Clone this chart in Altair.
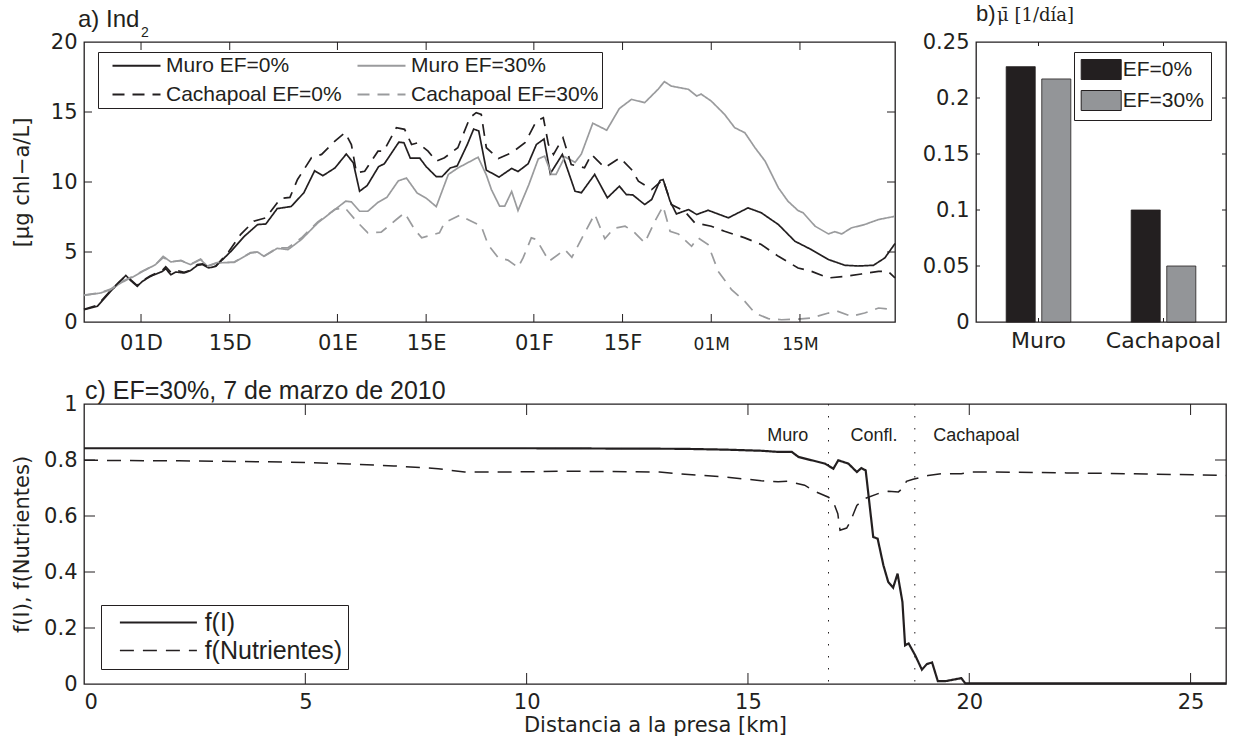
import altair as alt
import pandas as pd

NEGRO = "#231f20"
GRIS = "#9a9b9d"
GRIS_BARRA = "#939598"

# ---------------- a) Ind2 : clorofila diaria (dias desde el 22-nov-2009) ----------------
muro0_dia = [0, 2.1, 4.2, 5.5, 6.6, 7.4, 8.4, 9.2, 10.5, 12.4, 12.9, 13.7, 14.5, 15.8, 16.8, 17.9,
             18.7, 19.7, 20.8, 23.2, 25.3, 27.4, 28.7, 30.5, 32.7, 34.7, 36.4, 37.7, 39.6, 41.4,
             42.5, 43.5, 44.7, 46.5, 47.4, 49.7, 50.5, 51.5, 53.0, 54.0, 55.6, 56.5, 57.8, 58.9,
             60.5, 61.5, 62.3, 63.5, 65.5, 67.5, 68.5, 70.1, 71.4, 72.6, 73.6, 75.5, 77.5, 78.5,
             80.6, 82.6, 84.5, 85.6, 86.6, 88.5, 89.6, 90.9, 91.4, 92.5, 93.5, 95.4, 96.7, 98.5,
             101.7, 104.8, 106.9, 109.6, 112.2, 114.8, 117.5, 120.1, 122.2, 124.6, 126.4, 128]
muro0_val = [0.88, 1.12, 2.19, 2.79, 3.33, 2.95, 2.55, 2.9, 3.26, 3.62, 3.81, 3.38, 3.57, 3.5, 3.67, 4.05,
             4.1, 3.86, 3.98, 5.05, 6.12, 6.96, 7.0, 8.1, 8.25, 9.23, 10.8, 10.45, 11.0, 12.0,
             11.37, 9.34, 9.75, 11.1, 11.3, 12.85, 12.8, 11.7, 11.7, 11.1, 10.38, 10.38, 11.0, 11.15,
             12.68, 13.78, 13.65, 10.85, 10.35, 10.97, 10.75, 11.3, 12.68, 13.07, 10.6, 11.97, 9.34, 9.23,
             10.54, 8.87, 9.7, 9.1, 9.08, 8.39, 8.75, 10.1, 10.18, 8.63, 7.72, 8.03, 7.68, 7.98,
             7.44, 8.15, 7.8, 6.96, 5.77, 5.17, 4.46, 4.05, 4.0, 4.05, 4.58, 5.6]

muro30_dia = [0, 2.6, 4.2, 5.8, 7.9, 9.5, 11.3, 12.5, 13.7, 15.3, 16.8, 18.4, 19.5, 21.0, 23.7, 26.3,
              27.4, 28.4, 30.5, 32.2, 34.3, 36.9, 39.6, 41.3, 42.2, 43.5, 44.8, 46.4, 47.8, 49.6,
              50.9, 52.6, 54.0, 55.6, 57.5, 59.0, 62.2, 63.5, 64.3, 65.6, 66.4, 67.5, 68.5, 70.2,
              71.7, 72.7, 73.8, 74.5, 75.9, 77.5, 78.5, 80.3, 82.5, 84.5, 86.4, 88.5, 90.6, 91.6,
              92.7, 95.4, 96.7, 97.4, 99.0, 101.1, 102.7, 104.3, 105.9, 107.5, 109.6, 111.1, 112.7,
              113.5, 115.4, 117.5, 118.5, 119.6, 121.1, 123.2, 125.4, 128]
muro30_val = [1.9, 2.07, 2.31, 2.79, 3.26, 3.67, 4.1, 4.69, 4.29, 4.38, 4.1, 4.46, 3.98, 4.22, 4.26, 4.93,
              5.0, 4.69, 5.26, 5.17, 5.89, 7.08, 8.03, 8.63, 8.58, 7.91, 7.91, 8.55, 8.9, 10.08,
              10.28, 9.2, 8.85, 8.24, 10.54, 11.0, 11.77, 10.5, 9.46, 8.27, 8.27, 9.32, 7.96, 9.8,
              11.65, 11.85, 10.54, 10.54, 11.8, 11.4, 12.0, 14.2, 13.7, 15.25, 15.9, 15.67, 16.62, 17.17,
              16.85, 16.62, 16.14, 16.28, 15.78, 14.83, 13.88, 13.52, 12.45, 11.49, 9.58, 8.63, 7.96,
              7.8, 6.84, 6.29, 6.45, 6.29, 6.72, 6.96, 7.32, 7.55]

cacha0_dia = [0, 2.1, 4.2, 5.5, 6.6, 7.4, 8.4, 9.2, 10.5, 12.4, 12.9, 13.7, 14.5, 15.8, 16.8, 17.9,
              18.7, 19.7, 20.8, 22.8, 24.7, 26.8, 28.7, 31.0, 32.5, 33.7, 35.9, 37.5, 39.6, 41.2,
              42.2, 43.0, 44.3, 46.4, 47.3, 49.3, 50.6, 51.7, 52.7, 54.3, 55.6, 56.9, 59.0, 60.9,
              61.9, 62.7, 63.5, 65.4, 67.5, 69.6, 71.4, 72.5, 73.3, 74.1, 75.6, 76.9, 79.0, 80.1,
              82.2, 84.6, 86.4, 87.5, 89.6, 91.4, 92.7, 94.8, 96.4, 99.0, 101.1, 104.3, 106.9,
              109.6, 112.7, 114.8, 117.5, 120.1, 122.7, 125.4, 126.9, 128]
cacha0_val = [0.9, 1.2, 2.25, 2.85, 3.3, 3.0, 2.6, 2.95, 3.3, 3.7, 3.95, 3.55, 3.7, 3.55, 3.7, 4.1,
              4.15, 3.9, 4.0, 5.0, 6.24, 7.2, 7.44, 8.82, 8.9, 10.18, 11.73, 11.97, 12.92, 13.52,
              12.68, 10.66, 10.77, 12.2, 12.2, 13.88, 13.76, 12.68, 12.8, 12.2, 11.49, 11.73, 12.45, 14.59,
              14.95, 14.83, 12.45, 11.68, 12.09, 12.8, 14.35, 14.59, 12.68, 11.97, 13.16, 11.25, 11.02, 11.97,
              11.02, 11.73, 10.9, 10.06, 9.46, 10.18, 8.39, 7.91, 7.08, 6.84, 6.48, 6.01, 5.53,
              4.69, 3.86, 3.62, 3.15, 3.26, 3.43, 3.62, 3.62, 3.15]

cacha30_dia = [0, 2.6, 4.2, 5.8, 7.9, 9.5, 11.3, 12.5, 13.7, 15.3, 16.8, 18.4, 19.5, 21.0, 23.7, 26.3,
               27.4, 28.4, 30.5, 32.2, 34.3, 36.9, 39.6, 41.2, 43.0, 44.8, 46.9, 49.3, 50.6, 52.2,
               53.3, 56.1, 56.9, 59.3, 60.9, 62.7, 63.8, 65.4, 66.9, 68.5, 69.3, 70.6, 71.4, 73.4,
               75.9, 77.0, 79.0, 80.6, 82.2, 83.6, 85.4, 86.7, 88.5, 90.1, 91.4, 92.5, 93.8, 95.9,
               96.9, 98.5, 100.1, 102.2, 104.3, 105.9, 108.0, 110.1, 112.7, 114.8, 117.5, 119.0,
               121.1, 123.2, 125.4, 128]
cacha30_val = [1.92, 2.1, 2.35, 2.85, 3.3, 3.7, 4.12, 4.6, 4.3, 4.4, 4.12, 4.5, 4.0, 4.25, 4.28, 4.95,
               5.0, 4.7, 5.3, 5.3, 6.0, 7.15, 8.05, 8.15, 7.2, 6.37, 6.41, 7.32, 7.8, 6.6,
               6.01, 6.37, 7.08, 7.63, 7.25, 6.84, 5.5, 4.58, 4.42, 3.9, 4.58, 6.01, 5.9, 4.34,
               5.17, 4.62, 6.35, 7.7, 5.95, 6.68, 6.84, 6.48, 5.65, 7.2, 8.27, 6.48, 6.29, 5.41,
               6.01, 5.53, 3.62, 2.31, 1.47, 0.64, 0.24, 0.16, 0.2, 0.29, 0.64, 0.76,
               0.4, 0.64, 1.0, 0.88]

# legend entries fill the two-column box column by column
series_a = ["Muro EF=0%", "Cachapoal EF=0%", "Muro EF=30%", "Cachapoal EF=30%"]
dias_ticks = [9, 23, 40, 54, 71, 85, 99, 113]
fechas_ticks = ["01D", "15D", "01E", "15E", "01F", "15F", "01M", "15M"]
ind_ticks = [0, 5, 10, 15, 20]

# ---------------- b) tasa media de crecimiento ----------------
rios = ["Muro", "Cachapoal"]
escenarios = ["EF=0%", "EF=30%"]
mu_ef0 = [0.228, 0.100]
mu_ef30 = [0.217, 0.050]
mu_ticks = [0, 0.05, 0.1, 0.15, 0.2, 0.25]

# ---------------- c) perfil longitudinal 7-mar-2010 ----------------
fI_km = [0, 5, 10, 13.5, 14.5, 15.3, 15.68, 15.99, 16.14, 16.44, 16.74, 16.93, 17.04, 17.27, 17.46,
         17.56, 17.66, 17.83, 17.93, 18.06, 18.17, 18.28, 18.38, 18.49, 18.55, 18.63, 18.78, 18.93,
         19.04, 19.16, 19.29, 19.46, 19.82, 19.91, 21, 23, 25.8]
fI_val = [0.842, 0.842, 0.842, 0.84, 0.837, 0.833, 0.829, 0.829, 0.811, 0.799, 0.787, 0.769, 0.799,
          0.787, 0.757, 0.771, 0.763, 0.525, 0.519, 0.424, 0.364, 0.344, 0.394, 0.293, 0.138, 0.145,
          0.102, 0.051, 0.071, 0.077, 0.01, 0.01, 0.021, 0.002, 0.002, 0.002, 0.002]
fN_km = [0, 2.15, 4.5, 6, 7, 8, 8.6, 9.5, 11, 13, 13.5, 14.5, 15.3, 15.68, 15.9, 16.28, 16.54, 16.82,
         16.93, 17.03, 17.08, 17.23, 17.31, 17.46, 17.64, 17.94, 18.17, 18.4, 18.53, 18.58, 18.73,
         19.07, 19.37, 19.82, 20.04, 20.5, 22.2, 24, 25.8]
fN_val = [0.799, 0.797, 0.793, 0.786, 0.779, 0.769, 0.757, 0.757, 0.76, 0.757, 0.75, 0.739, 0.726,
          0.722, 0.724, 0.71, 0.686, 0.667, 0.65, 0.608, 0.549, 0.557, 0.579, 0.638, 0.662, 0.68,
          0.688, 0.686, 0.704, 0.724, 0.731, 0.745, 0.751, 0.751, 0.757, 0.757, 0.754, 0.75, 0.745]
series_c = ["f(I)", "f(Nutrientes)"]
tramos_km = [16.82, 18.77]
tramos_txt_km = [15.9, 17.85, 20.16]
tramos_txt = ["Muro", "Confl.", "Cachapoal"]
km_ticks = [0, 5, 10, 15, 20, 25]
f_ticks = [0, 0.2, 0.4, 0.6, 0.8, 1]

FUENTE = "Liberation Sans, Arial, sans-serif"
FUENTE_EJE = "DejaVu Sans, sans-serif"

W_A, H_A = 811, 280
W_B, H_B = 250, 280
W_C, H_C = 1142, 280


def marcas(campo, tipo, valores, eje, largo, ancho, alto, escala=None):
    """Inward tick marks on both sides of a boxed panel."""
    df = pd.DataFrame({campo: valores})
    base = alt.Chart(df).mark_rule(color=NEGRO, strokeWidth=1)
    if escala is not None:
        pos = alt.X(f"{campo}:{tipo}", scale=escala) if eje == "x" else alt.Y(f"{campo}:{tipo}", scale=escala)
    else:
        pos = f"{campo}:{tipo}"
    if eje == "y":
        return [base.encode(y=pos, x=alt.value(0), x2=alt.value(largo)),
                base.encode(y=pos, x=alt.value(ancho - largo), x2=alt.value(ancho))]
    return [base.encode(x=pos, y=alt.value(alto), y2=alt.value(alto - largo)),
            base.encode(x=pos, y=alt.value(0), y2=alt.value(largo))]


# ---------- panel a ----------
filas = []
for nombre, dias, vals in [("Muro EF=0%", muro0_dia, muro0_val), ("Muro EF=30%", muro30_dia, muro30_val),
                           ("Cachapoal EF=0%", cacha0_dia, cacha0_val),
                           ("Cachapoal EF=30%", cacha30_dia, cacha30_val)]:
    for d, v in zip(dias, vals):
        filas.append({"dia": d, "valor": v, "serie": nombre})
df_a = pd.DataFrame(filas)

leyenda_a = alt.Legend(
    title=None, orient="none", legendX=14, legendY=10, columns=2, columnPadding=4, rowPadding=7,
    padding=3, strokeColor=NEGRO, fillColor="white", labelFont=FUENTE, labelFontSize=21,
    labelColor=NEGRO, symbolType="M-4,0L4,0", symbolSize=144, symbolOffset=25, labelOffset=19,
    symbolStrokeWidth=1.8, labelLimit=400,
)
escala_x_a = alt.Scale(domain=[0, 128], nice=False, zero=False)
etiquetas_x = "[" + ",".join(f"'{t}'" for t in fechas_ticks) + "]"
valores_x = "[" + ",".join(str(d) for d in dias_ticks) + "]"

lineas_a = alt.Chart(df_a).mark_line(strokeWidth=1.7).encode(
    x=alt.X("dia:Q", scale=escala_x_a, title=None,
            axis=alt.Axis(values=dias_ticks, labelExpr=f"{etiquetas_x}[indexof({valores_x}, datum.value)]",
                          labelBaseline="alphabetic", labelPadding=27, minExtent=34, maxExtent=34,
                          labelFontSize={"condition": {"test": "datum.value >= 99", "value": 17}, "value": 21})),
    y=alt.Y("valor:Q", scale=alt.Scale(domain=[0, 20], nice=False), title="[µg chl−a/L]",
            axis=alt.Axis(values=ind_ticks, labelPadding=7, minExtent=52, maxExtent=52, titlePadding=0)),
    color=alt.Color("serie:N", scale=alt.Scale(domain=series_a, range=[NEGRO, NEGRO, GRIS, GRIS]),
                    sort=series_a, legend=leyenda_a),
    strokeDash=alt.StrokeDash("serie:N", scale=alt.Scale(domain=series_a,
                                                         range=[[1, 0], [12, 8], [1, 0], [12, 8]]),
                              sort=series_a, legend=leyenda_a),
)
titulo_a = alt.Chart(pd.DataFrame({"t": ["a) Ind"]})).mark_text(
    align="left", baseline="alphabetic", font=FUENTE, fontSize=24, color=NEGRO
).encode(text="t:N", x=alt.value(-6), y=alt.value(-15))
sub_a = alt.Chart(pd.DataFrame({"t": ["2"]})).mark_text(
    align="left", baseline="alphabetic", font=FUENTE, fontSize=14, color=NEGRO
).encode(text="t:N", x=alt.value(57), y=alt.value(-5))

panel_a = alt.layer(
    lineas_a,
    *marcas("valor", "Q", [5, 10, 15], "y", 8, W_A, H_A),
    *marcas("dia", "Q", dias_ticks, "x", 8, W_A, H_A),
    titulo_a, sub_a,
).properties(width=W_A, height=H_A)

# ---------- panel b ----------
df_b = pd.DataFrame({
    "rio": rios * 2,
    "escenario": [escenarios[0]] * 2 + [escenarios[1]] * 2,
    "mu": mu_ef0 + mu_ef30,
})
leyenda_b = alt.Legend(
    title=None, orient="none", legendX=98, legendY=10, padding=7, rowPadding=6,
    strokeColor=NEGRO, fillColor="white", labelFont=FUENTE, labelFontSize=21, labelColor=NEGRO,
    symbolType="M-2,-1L2,-1L2,1L-2,1Z", symbolSize=400, symbolOffset=9.7, labelOffset=11,
    symbolStrokeColor=NEGRO, symbolStrokeWidth=1,
)
escala_rio = alt.Scale(domain=rios, paddingInner=0, paddingOuter=0)
barras_b = alt.Chart(df_b).mark_bar(stroke=NEGRO, strokeWidth=0.8).encode(
    x=alt.X("rio:N", sort=rios, scale=escala_rio, title=None,
            axis=alt.Axis(labelAngle=0, labelPadding=8, labelFontSize=22, minExtent=34, maxExtent=34)),
    xOffset=alt.XOffset("escenario:N", sort=escenarios,
                        scale=alt.Scale(domain=escenarios, paddingInner=0.183, paddingOuter=0.848)),
    y=alt.Y("mu:Q", scale=alt.Scale(domain=[0, 0.25], nice=False), title=None,
            axis=alt.Axis(values=mu_ticks, format="~g", labelPadding=7, minExtent=60, maxExtent=60)),
    color=alt.Color("escenario:N", sort=escenarios,
                    scale=alt.Scale(domain=escenarios, range=[NEGRO, GRIS_BARRA]), legend=leyenda_b),
)
titulo_b = alt.Chart(pd.DataFrame({"t": ["b)"]})).mark_text(
    align="left", baseline="alphabetic", font=FUENTE, fontSize=22, color=NEGRO
).encode(text="t:N", x=alt.value(0), y=alt.value(-21))
mu_b = alt.Chart(pd.DataFrame({"t": ["μ̄ [1/día]"]})).mark_text(
    align="left", baseline="alphabetic", font="DejaVu Serif, serif", fontSize=18, color=NEGRO
).encode(text="t:N", x=alt.value(21), y=alt.value(-21))

panel_b = alt.layer(
    barras_b,
    *marcas("mu", "Q", [0.05, 0.1, 0.15, 0.2], "y", 4, W_B, H_B),
    *marcas("rio", "N", rios, "x", 4, W_B, H_B, escala=escala_rio),
    titulo_b, mu_b,
).properties(width=W_B, height=H_B)

# ---------- panel c ----------
df_c = pd.DataFrame(
    [{"km": k, "f": v, "serie": series_c[0]} for k, v in zip(fI_km, fI_val)]
    + [{"km": k, "f": v, "serie": series_c[1]} for k, v in zip(fN_km, fN_val)]
)
leyenda_c = alt.Legend(
    title=None, orient="none", legendX=17, legendY=201, padding=5, rowPadding=2,
    strokeColor=NEGRO, fillColor="white", labelFont=FUENTE, labelFontSize=25, labelColor=NEGRO,
    symbolType="M-4,0L4,0", symbolSize=370.6, symbolOffset=39.9, labelOffset=33.75, labelLimit=400,
)
lineas_c = alt.Chart(df_c).mark_line().encode(
    x=alt.X("km:Q", scale=alt.Scale(domain=[0, 25.8], nice=False, zero=False),
            title="Distancia a la presa [km]",
            axis=alt.Axis(values=km_ticks, labelPadding=7, titlePadding=2)),
    y=alt.Y("f:Q", scale=alt.Scale(domain=[0, 1], nice=False), title="f(I), f(Nutrientes)",
            axis=alt.Axis(values=f_ticks, format="~g", labelPadding=7, minExtent=52, maxExtent=52,
                          titlePadding=0)),
    color=alt.Color("serie:N", sort=series_c, scale=alt.Scale(domain=series_c, range=[NEGRO, NEGRO]),
                    legend=leyenda_c),
    strokeDash=alt.StrokeDash("serie:N", sort=series_c,
                              scale=alt.Scale(domain=series_c, range=[[1, 0], [14, 9]]), legend=leyenda_c),
    strokeWidth=alt.StrokeWidth("serie:N", sort=series_c,
                                scale=alt.Scale(domain=series_c, range=[2.2, 1.5]), legend=leyenda_c),
)
tramos = alt.Chart(pd.DataFrame({"km": tramos_km})).mark_rule(
    color=NEGRO, strokeWidth=1, strokeDash=[1.5, 10.5]
).encode(x="km:Q")
tramos_txt_df = pd.DataFrame({"km": tramos_txt_km, "f": [0.886] * 3, "lugar": tramos_txt})
tramos_rot = alt.Chart(tramos_txt_df).mark_text(
    font=FUENTE, fontSize=18, color=NEGRO, baseline="middle", align="center"
).encode(x="km:Q", y="f:Q", text="lugar:N")
titulo_c = alt.Chart(pd.DataFrame({"t": ["c) EF=30%, 7 de marzo de 2010"]})).mark_text(
    align="left", baseline="alphabetic", font=FUENTE, fontSize=25, color=NEGRO
).encode(text="t:N", x=alt.value(1), y=alt.value(-5))

panel_c = alt.layer(
    tramos, lineas_c, tramos_rot,
    *marcas("f", "Q", [0.2, 0.4, 0.6, 0.8], "y", 11, W_C, H_C),
    *marcas("km", "Q", [5, 10, 15, 20, 25], "x", 11, W_C, H_C),
    titulo_c,
).properties(width=W_C, height=H_C)

independiente = dict(color="independent", strokeDash="independent", strokeWidth="independent")
fila_sup = alt.hconcat(panel_a, panel_b, spacing=15).resolve_scale(**independiente).resolve_legend(
    color="independent", strokeDash="independent")

chart = alt.vconcat(
    fila_sup,
    panel_c,
    spacing=21,
).resolve_scale(**independiente).resolve_legend(
    color="independent", strokeDash="independent", strokeWidth="independent"
).properties(
    padding={"left": 10, "top": 2, "right": 5, "bottom": 5}
).configure_view(
    stroke=NEGRO, strokeWidth=1.3
).configure_axis(
    grid=False, ticks=False, domain=False,
    labelFont=FUENTE_EJE, labelFontSize=21, labelColor=NEGRO,
    titleFont=FUENTE_EJE, titleFontSize=21, titleFontWeight="normal", titleColor=NEGRO,
)

chart.save("out.html", embed_options={"renderer": "svg", "actions": False})
